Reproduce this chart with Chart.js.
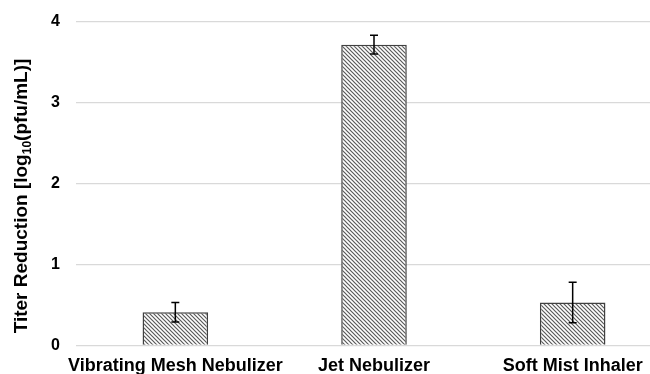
<!DOCTYPE html>
<html>
<head>
<meta charset="utf-8">
<script src="https://cdn.jsdelivr.net/npm/chart.js@4"></script>
<style>
  html, body { margin:0; padding:0; background:#fff; overflow:hidden; }
  #wrap { width:672px; height:374px; position:relative; }
</style>
</head>
<body>
<div id="wrap"><canvas id="myChart"></canvas></div>
<script>
// devices and measured titer reduction (log10 pfu/mL)
const labels = ["Vibrating Mesh Nebulizer", "Jet Nebulizer", "Soft Mist Inhaler"];
const values = [0.41, 3.72, 0.53];
const errors = [0.12, 0.115, 0.25];
const yTicks = [0, 1, 2, 3, 4];

const FONT = "Liberation Sans, Arial, sans-serif";

// diagonal hatch fill, lines running top-left to bottom-right
function makeHatch() {
    const s = 4;
    const c = document.createElement("canvas");
    c.width = s; c.height = s;
    const g = c.getContext("2d");
    g.fillStyle = "#fff";
    g.fillRect(0, 0, s, s);
    g.strokeStyle = "#5a5a5a";
    g.lineWidth = 1.2;
    g.beginPath();
    g.moveTo(-1, -1); g.lineTo(s + 1, s + 1);
    g.moveTo(-1, s - 1); g.lineTo(1, s + 1);
    g.moveTo(s - 1, -1); g.lineTo(s + 1, 1);
    g.stroke();
    return g.createPattern(c, "repeat");
}

const ctx = document.getElementById("myChart").getContext("2d");

// whiskers drawn through the y scale
const errorBars = {
    id: "errorBars",
    afterDatasetsDraw(chart) {
        const meta = chart.getDatasetMeta(0);
        const y = chart.scales.y;
        const c = chart.ctx;
        c.save();
        c.strokeStyle = "#000";
        c.lineWidth = 1.5;
        meta.data.forEach((bar, i) => {
            const top = y.getPixelForValue(values[i] + errors[i]);
            const bot = y.getPixelForValue(values[i] - errors[i]);
            const x = bar.x;
            c.beginPath();
            c.moveTo(x, top); c.lineTo(x, bot);
            c.moveTo(x - 4, top); c.lineTo(x + 4, top);
            c.moveTo(x - 4, bot); c.lineTo(x + 4, bot);
            c.stroke();
        });
        c.restore();
    }
};

// y title with a real subscript "10"
const yTitle = {
    id: "yTitle",
    afterDraw(chart) {
        const c = chart.ctx;
        const parts = [
            { t: "Titer Reduction [log", size: 19, dy: 0 },
            { t: "10", size: 12, dy: 4 },
            { t: "(pfu/mL)]", size: 19, dy: 0 }
        ];
        c.save();
        c.fillStyle = "#000";
        c.textBaseline = "alphabetic";
        let total = 0;
        parts.forEach(p => {
            c.font = "bold " + p.size + "px " + FONT;
            p.w = c.measureText(p.t).width;
            total += p.w;
        });
        c.translate(27, 196);
        c.rotate(-Math.PI / 2);
        let x = -total / 2;
        parts.forEach(p => {
            c.font = "bold " + p.size + "px " + FONT;
            c.fillText(p.t, x, p.dy);
            x += p.w;
        });
        c.restore();
    }
};

const data = {
    labels,
    datasets: [{
        data: values,
        backgroundColor: makeHatch(),
        borderColor: "#404040",
        borderWidth: 1.5,
        categoryPercentage: 1,
        barPercentage: 0.33
    }]
};

const config = {
    type: "bar",
    data: data,
    options: {
        responsive: true,
        maintainAspectRatio: false,
        animation: false,
        layout: { padding: { top: 22, right: 0, bottom: -13, left: 0 } },
        plugins: { legend: { display: false }, tooltip: { enabled: false } },
        scales: {
            x: {
                grid: { display: false, drawTicks: false },
                border: { display: false },
                ticks: {
                    color: "#000",
                    padding: 10,
                    maxRotation: 0,
                    autoSkip: false,
                    font: { family: FONT, size: 18, weight: "bold" }
                }
            },
            y: {
                min: 0,
                max: 4,
                afterFit(scale) {
                    scale.width = 76;
                    scale.paddingTop = 0;
                    scale.paddingBottom = 0;
                },
                afterBuildTicks(scale) { scale.ticks = yTicks.map(v => ({ value: v })); },
                grid: { color: "#d9d9d9", lineWidth: 1.3, drawTicks: false },
                border: { display: false },
                ticks: {
                    color: "#000",
                    padding: 16,
                    font: { family: FONT, size: 16, weight: "bold" }
                }
            }
        }
    },
    plugins: [errorBars, yTitle]
};

const myChart = new Chart(ctx, config);
</script>
</body>
</html>
